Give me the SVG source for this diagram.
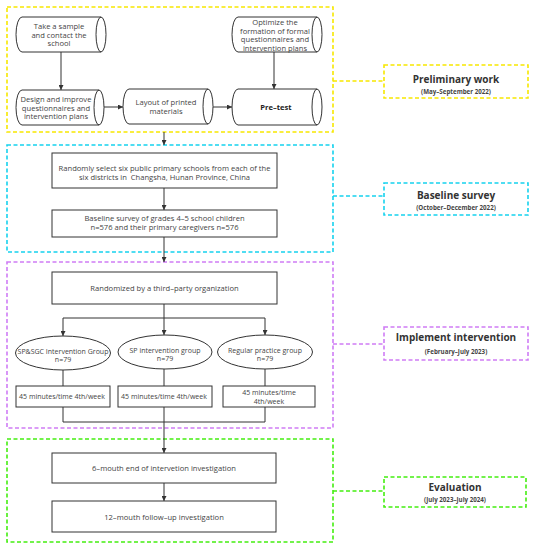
<svg xmlns="http://www.w3.org/2000/svg" width="536" height="550" viewBox="0 0 536 550">
<defs>
<marker id="ah" viewBox="0 0 10 10" refX="10" refY="5" markerWidth="5" markerHeight="5" orient="auto" markerUnits="userSpaceOnUse"><path d="M0,0 L10,5 L0,10 Z" fill="#333"/></marker>
<style>
text{font-family:"Open Sans","Noto Sans","Liberation Sans",sans-serif;fill:#444;font-size:7.6px;text-anchor:middle}
.b{font-weight:bold;fill:#222}
.e{font-size:7px}
.t{font-size:10px;font-weight:bold;fill:#333}
.s{font-size:6.2px;font-weight:bold;fill:#444}
.n{fill:#fff;stroke:#333;stroke-width:1}
.c{fill:none;stroke:#333;stroke-width:1}
.ca{fill:none;stroke:#333;stroke-width:1;marker-end:url(#ah)}
.d{fill:none;stroke-width:1.6;stroke-dasharray:4 2.5}
.y{stroke:#f7e800}.cy{stroke:#16d2ee}.p{stroke:#cf7cf5}.g{stroke:#44ee11}
</style>
</defs>
<rect width="536" height="550" fill="#fff"/>
<g id="phases">
<rect class="d y" x="7" y="7" width="326" height="125"/>
<rect class="d cy" x="7" y="145" width="326" height="107"/>
<rect class="d p" x="7" y="262" width="326" height="166"/>
<rect class="d g" x="7" y="439" width="326" height="103"/>
</g>
<g id="connectors">
<line class="ca" x1="61" y1="52" x2="61" y2="90"/>
<line class="ca" x1="274" y1="52" x2="274" y2="89"/>
<line class="ca" x1="104" y1="107" x2="123" y2="107"/>
<line class="ca" x1="213" y1="107" x2="232" y2="107"/>
<line class="ca" x1="164" y1="132" x2="164" y2="145"/>
<line class="ca" x1="164" y1="188" x2="164" y2="210"/>
<line class="ca" x1="164" y1="237" x2="164" y2="262"/>
<line class="c" x1="164" y1="304" x2="164" y2="318"/>
<line class="c" x1="63" y1="318" x2="265" y2="318"/>
<line class="ca" x1="63" y1="318" x2="63" y2="336"/>
<line class="ca" x1="164" y1="318" x2="164" y2="335"/>
<line class="ca" x1="265" y1="318" x2="265" y2="335"/>
<line class="c" x1="63" y1="370" x2="63" y2="386"/>
<line class="c" x1="164" y1="369" x2="164" y2="386"/>
<line class="c" x1="265" y1="369" x2="265" y2="386"/>
<line class="c" x1="63" y1="407" x2="63" y2="422"/>
<line class="c" x1="164" y1="407" x2="164" y2="422"/>
<line class="c" x1="265" y1="407" x2="265" y2="422"/>
<line class="c" x1="63" y1="422" x2="265" y2="422"/>
<line class="ca" x1="164" y1="422" x2="164" y2="453"/>
<line class="ca" x1="164" y1="483" x2="164" y2="501"/>
<polyline class="d y" points="333,81 384,81"/>
<polyline class="d cy" points="333,196 384,196"/>
<polyline class="d p" points="333,344 384,344"/>
<polyline class="d g" points="333,491 384,491"/>
</g>
<g id="take-sample">
<path class="n" d="M22,17 L101,17 A5,17.5 0 0 1 101,52 L22,52 A6,17.5 0 0 1 22,17 Z M101,17 A5,17.5 0 0 0 101,52"/>
<text x="59" y="29">Take a sample</text><text x="59" y="37.7">and contact the</text><text x="59" y="46.4">school</text>
</g>
<g id="optimize">
<path class="n" d="M238,17 L317,17 A5,17.5 0 0 1 317,52 L238,52 A6,17.5 0 0 1 238,17 Z M317,17 A5,17.5 0 0 0 317,52"/>
<text x="275" y="24.8">Optimize the</text><text x="275" y="33.5">formation of formal</text><text x="275" y="42.2">questionnaires and</text><text x="275" y="50.9">intervention plans</text>
</g>
<g id="design">
<path class="n" d="M22,90 L99,90 A5,17.5 0 0 1 99,125 L22,125 A6,17.5 0 0 1 22,90 Z M99,90 A5,17.5 0 0 0 99,125"/>
<text x="56" y="101.8">Design and improve</text><text x="56" y="110.5">questionnaires and</text><text x="56" y="119.2">intervention plans</text>
</g>
<g id="layout">
<path class="n" d="M129,89 L208,89 A5,17.5 0 0 1 208,124 L129,124 A6,17.5 0 0 1 129,89 Z M208,89 A5,17.5 0 0 0 208,124"/>
<text x="166" y="104.8">Layout of printed</text><text x="166" y="113.5">materials</text>
</g>
<g id="pretest">
<path class="n" d="M238,89 L317,89 A5,18 0 0 1 317,125 L238,125 A6,18 0 0 1 238,89 Z M317,89 A5,18 0 0 0 317,125"/>
<text class="b" x="276" y="110">Pre–test</text>
</g>
<g id="select-schools">
<rect class="n" x="52" y="153" width="225" height="35"/>
<text x="164.5" y="170.8">Randomly select six public primary schools from each of the</text>
<text x="164.5" y="179.6" xml:space="preserve">six districts in  Changsha, Hunan Province, China</text>
</g>
<g id="baseline">
<rect class="n" x="52" y="210" width="225" height="27"/>
<text x="164.5" y="221">Baseline survey of grades 4–5 school children</text>
<text x="164.5" y="230">n=576 and their primary caregivers n=576</text>
</g>
<g id="randomized">
<rect class="n" x="52" y="272" width="225" height="32"/>
<text x="164.5" y="291">Randomized by a third–party organization</text>
</g>
<g id="group-spsgc">
<ellipse class="n" cx="63" cy="353" rx="47.5" ry="17"/>
<text class="e" x="63" y="354">SP&amp;SGC Intervention Group</text><text class="e" x="63" y="362.4">n=79</text>
</g>
<g id="group-sp">
<ellipse class="n" cx="165" cy="352" rx="47" ry="17"/>
<text class="e" x="165" y="353">SP intervention group</text><text class="e" x="165" y="361.4">n=79</text>
</g>
<g id="group-regular">
<ellipse class="n" cx="265" cy="352" rx="47.5" ry="17"/>
<text class="e" x="265" y="353">Regular practice group</text><text class="e" x="265" y="361.4">n=79</text>
</g>
<g id="time-1">
<rect class="n" x="16" y="386" width="94" height="21"/>
<text class="e" x="62" y="399">45 minutes/time 4th/week</text>
</g>
<g id="time-2">
<rect class="n" x="118" y="386" width="94" height="21"/>
<text class="e" x="164" y="399">45 minutes/time 4th/week</text>
</g>
<g id="time-3">
<rect class="n" x="223" y="386" width="92" height="21"/>
<text class="e" x="269" y="395">45 minutes/time</text><text class="e" x="269" y="403.6">4th/week</text>
</g>
<g id="six-month">
<rect class="n" x="52" y="453" width="224" height="30"/>
<text x="164" y="470.8">6–mouth end of intervetion investigation</text>
</g>
<g id="twelve-month">
<rect class="n" x="52" y="501" width="224" height="31"/>
<text x="164" y="519.8">12–mouth follow–up investigation</text>
</g>
<g id="label-preliminary">
<rect class="d y" x="384" y="65" width="144" height="33" fill="#fff"/>
<text class="t" x="456" y="82.5">Preliminary work</text><text class="s" x="456" y="93.5">(May–September 2022)</text>
</g>
<g id="label-baseline">
<rect class="d cy" x="384" y="183" width="144" height="32" fill="#fff"/>
<text class="t" x="456" y="199">Baseline survey</text><text class="s" x="456" y="209.5">(October–December 2022)</text>
</g>
<g id="label-implement">
<rect class="d p" x="384" y="327" width="144" height="33" fill="#fff"/>
<text class="t" x="456" y="341">Implement intervention</text><text class="s" x="456" y="353.5">(February–July 2023)</text>
</g>
<g id="label-evaluation">
<rect class="d g" x="384" y="477" width="142" height="30" fill="#fff"/>
<text class="t" x="455" y="491">Evaluation</text><text class="s" x="455" y="502">(July 2023–July 2024)</text>
</g>
</svg>
